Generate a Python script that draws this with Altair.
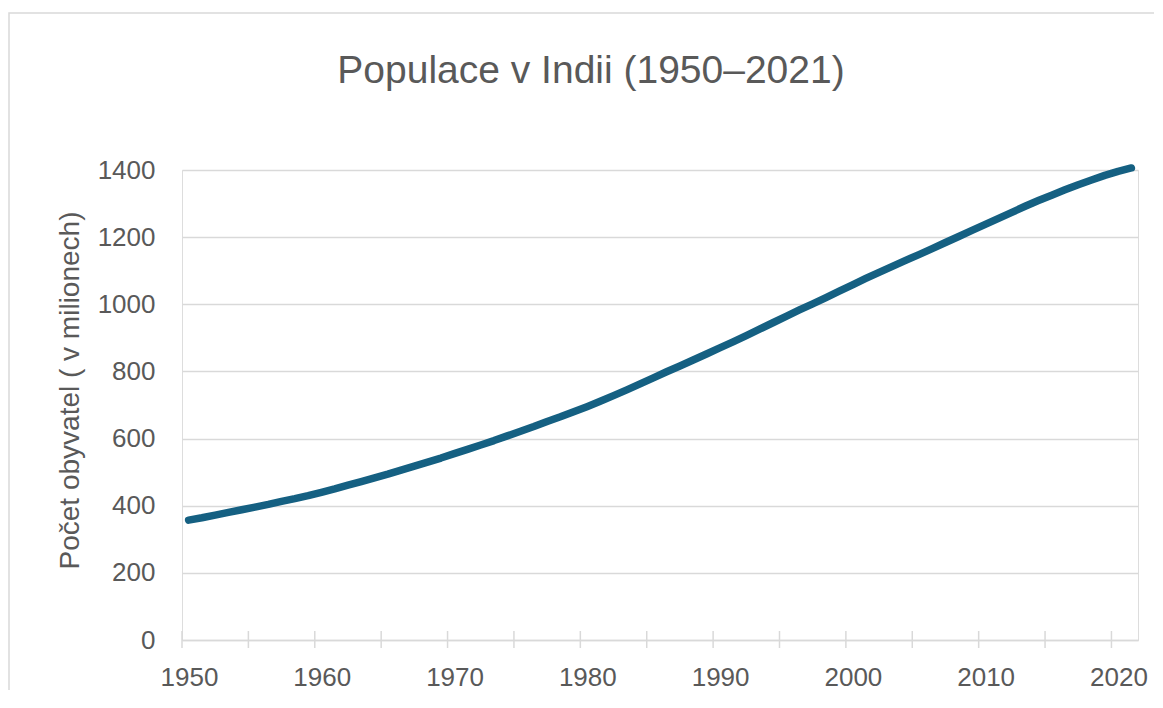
import altair as alt
import pandas as pd

# Data (population of India, millions)
years = list(range(1950, 2022))
population = [
    357, 364, 372, 380, 388, 396, 404, 413, 421, 430,
    440, 450, 461, 472, 483, 494, 506, 518, 530, 542,
    555, 568, 581, 594, 608, 622, 636, 651, 665, 680,
    695, 711, 728, 745, 763, 781, 799, 816, 834, 852,
    870, 888, 907, 926, 945, 964, 983, 1001, 1020, 1039,
    1058, 1077, 1095, 1113, 1131, 1148, 1166, 1184, 1202, 1220,
    1238, 1256, 1274, 1292, 1309, 1325, 1341, 1356, 1370, 1384,
    1396, 1406,
]
x_label_values = [1950, 1960, 1970, 1980, 1990, 2000, 2010, 2020]
x_tick_values = list(range(1950, 2021, 5))
y_tick_values = [0, 200, 400, 600, 800, 1000, 1200, 1400]

title_text = "Populace v Indii (1950–2021)"
y_title = "Počet obyvatel ( v milionech)"

df = pd.DataFrame({"year": years, "pop": population})
ticks_df = pd.DataFrame({"tick": x_tick_values})

FONT = "Liberation Sans"
GRAY_TXT = "#595959"
GRID = "#d9d9d9"
W, H = 956, 470

x_scale = alt.Scale(domain=[1950, 2022], nice=False, zero=False)
y_scale = alt.Scale(domain=[0, 1400], nice=False)

x_axis = alt.Axis(
    values=x_label_values,
    format="d",
    title=None,
    grid=False,
    ticks=False,
    domain=True,
    domainColor=GRID,
    domainWidth=1.5,
    labelFont=FONT,
    labelFontSize=26,
    labelColor=GRAY_TXT,
    labelPadding=37,
    labelOffset=7,
    labelBaseline="middle",
    labelFlush=False,
)

border = alt.Chart(alt.Data(values=[{}])).mark_rect(
    filled=False, stroke=GRID, strokeWidth=1.5
).encode(
    x=alt.value(-173), y=alt.value(-157), x2=alt.value(1100), y2=alt.value(600)
)

line = alt.Chart(df).transform_calculate(
    xpos="datum.year + 0.5"
).mark_line(
    color="#156082", strokeWidth=7.5, strokeCap="round", strokeJoin="round"
).encode(
    x=alt.X("xpos:Q", scale=x_scale, axis=x_axis),
    y=alt.Y(
        "pop:Q",
        scale=y_scale,
        axis=alt.Axis(
            values=y_tick_values,
            format="d",
            title=y_title,
            titleFont=FONT,
            titleFontSize=28,
            titleFontWeight="normal",
            titleColor=GRAY_TXT,
            titleAngle=-90,
            titleX=-112,
            titleY=220,
            titleAlign="center",
            titleBaseline="middle",
            grid=True,
            gridColor=GRID,
            gridWidth=1.5,
            ticks=False,
            domain=False,
            labelFont=FONT,
            labelFontSize=26,
            labelColor=GRAY_TXT,
            labelPadding=27,
        ),
    ),
)

tick_marks = alt.Chart(ticks_df).mark_rule(color=GRID, strokeWidth=1.5).encode(
    x=alt.X("tick:Q", scale=x_scale, axis=x_axis),
    y=alt.value(H - 9),
    y2=alt.value(H + 8),
)

chart = alt.layer(border, tick_marks, line).properties(
    width=W,
    height=H,
    title=alt.TitleParams(
        text=title_text,
        font=FONT,
        fontSize=39,
        fontWeight="normal",
        color=GRAY_TXT,
        anchor="middle",
        frame="group",
        dx=-69,
        offset=-79,
    ),
    autosize=alt.AutoSizeParams(type="none"),
    padding={"left": 174, "top": 162, "right": 16, "bottom": 50},
).configure_view(stroke="transparent", strokeWidth=0).configure(background="white")

chart.save("out.html", embed_options={"renderer": "svg", "actions": False})
